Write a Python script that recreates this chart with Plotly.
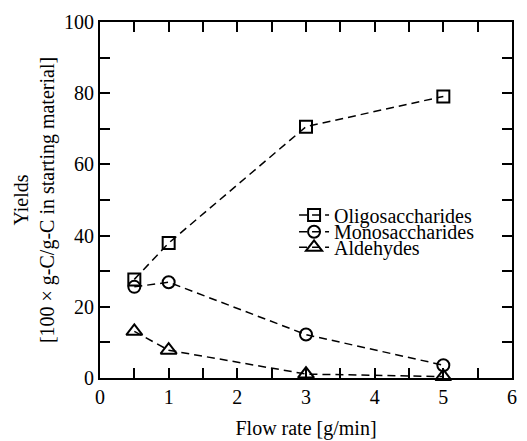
import plotly.graph_objects as go

flow = [0.5, 1, 3, 5]
oligo = [27.7, 37.9, 70.6, 79.1]
mono = [25.6, 26.9, 12.2, 3.6]
alde = [13.1, 7.8, 1.1, 0.4]

names = ["Oligosaccharides", "Monosaccharides", "Aldehydes"]
values = [oligo, mono, alde]
symbols = ["square-open", "circle-open", "triangle-up-open"]
sizes = [12, 12, 14]
legend_ids = ["legend", "legend2", "legend3"]

font = "Liberation Serif"

fig = go.Figure()
for name, vals, sym, sz, lg in zip(names, values, symbols, sizes, legend_ids):
    fig.add_trace(go.Scatter(
        x=flow, y=vals, name=name, mode="lines+markers", legend=lg,
        line=dict(color="black", width=1.5, dash="8px,5px"),
        marker=dict(symbol=sym, size=sz, color="black", line=dict(width=2, color="black")),
        cliponaxis=False))

axis_common = dict(showline=True, linewidth=2, linecolor="black", mirror="ticks",
                   ticks="inside", ticklen=10, tickwidth=2, tickcolor="black",
                   showgrid=False, zeroline=False, automargin=False,
                   tickfont=dict(family=font, size=20, color="black"))
fig.update_xaxes(range=[0, 6], dtick=1,
                 minor=dict(ticks="inside", ticklen=10, tickwidth=2, tickcolor="black", dtick=0.5),
                 title=dict(text="Flow rate [g/min]", font=dict(family=font, size=20, color="black"), standoff=14),
                 **axis_common)
fig.update_yaxes(range=[0, 100], dtick=20,
                 minor=dict(ticks="inside", ticklen=10, tickwidth=2, tickcolor="black", dtick=10),
                 title=dict(text="Yields<br>[100 × g-C/g-C in starting material]",
                            font=dict(family=font, size=20, color="black"), standoff=4),
                 **axis_common)

leg_common = dict(xanchor="left", yanchor="middle", bgcolor="rgba(0,0,0,0)",
                  font=dict(family=font, size=20, color="black"), itemsizing="trace")
leg_x = 0.471
fig.update_layout(
    width=527, height=441,
    margin=dict(l=100, r=15, t=22, b=63),
    plot_bgcolor="white", paper_bgcolor="white",
    font=dict(family=font, size=20, color="black"),
    legend=dict(x=leg_x, y=0.458, **leg_common),
    legend2=dict(x=leg_x, y=0.411, **leg_common),
    legend3=dict(x=leg_x, y=0.367, **leg_common),
    showlegend=True,
)
fig.write_html("out.html", config={"displayModeBar": False},
               post_script="document.body.style.margin='0';")
